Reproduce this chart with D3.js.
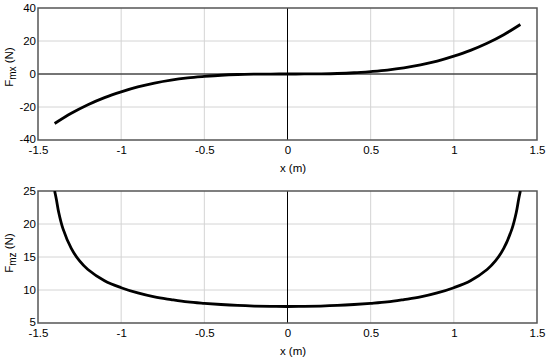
<!DOCTYPE html>
<html>
<head>
<meta charset="utf-8">
<script src="https://cdn.jsdelivr.net/npm/d3@7/dist/d3.min.js"></script>
<style>
  body { margin: 0; background: #fff; }
  svg { display: block; font-family: "Liberation Sans", Arial, sans-serif; }
  .tick text { font-size: 11.5px; fill: #000; }
  .lbl { font-size: 11.5px; fill: #000; }
</style>
</head>
<body>
<svg id="chart" width="550" height="361"></svg>
<script>
// donnees
var xTicks = [-1.5, -1, -0.5, 0, 0.5, 1, 1.5];
var fmxTicks = [-40, -20, 0, 20, 40];
var fmzTicks = [5, 10, 15, 20, 25];

var xMx = [-1.4, -1.3, -1.2, -1.1, -1.0, -0.9, -0.8, -0.7, -0.6, -0.5, -0.4, -0.3, -0.2, -0.1, 0,
           0.1, 0.2, 0.3, 0.4, 0.5, 0.6, 0.7, 0.8, 0.9, 1.0, 1.1, 1.2, 1.3, 1.4];
var fmx = [-30, -23.8, -18.6, -14.3, -10.8, -7.8, -5.5, -3.7, -2.4, -1.5, -0.75, -0.3, -0.1, -0.02, 0,
           0.02, 0.1, 0.3, 0.75, 1.5, 2.4, 3.7, 5.5, 7.8, 10.8, 14.3, 18.6, 23.8, 30];

var xMz = [-1.4, -1.39, -1.375, -1.35, -1.3, -1.25, -1.2, -1.1, -1.0, -0.9, -0.8, -0.7, -0.6, -0.5, -0.4, -0.3, -0.2, -0.1, 0,
           0.1, 0.2, 0.3, 0.4, 0.5, 0.6, 0.7, 0.8, 0.9, 1.0, 1.1, 1.2, 1.25, 1.3, 1.35, 1.375, 1.39, 1.4];
var fmz = [25, 23.8, 21.7, 19.3, 16.3, 14.4, 13.1, 11.4, 10.35, 9.55, 8.95, 8.55, 8.2, 7.98, 7.8, 7.66, 7.57, 7.52, 7.5,
           7.52, 7.57, 7.66, 7.8, 7.98, 8.2, 8.55, 8.95, 9.55, 10.35, 11.4, 13.1, 14.4, 16.3, 19.3, 21.7, 23.8, 25];

var svg = d3.select("#chart");
var left = 38, right = 537;

var x = d3.scaleLinear().domain([-1.5, 1.5]).range([left, right]);

function drawPanel(id, top, bottom, yTicks, xs, ys, labMain, labSub, labY, zeroH) {
	var y = d3.scaleLinear().domain([yTicks[0], yTicks[yTicks.length - 1]]).range([bottom, top]);
	var g = svg.append("g").attr("id", id);

	svg.append("clipPath").attr("id", "clip-" + id)
		.append("rect")
		.attr("x", left).attr("y", top)
		.attr("width", right - left).attr("height", bottom - top);

	// grille
	g.selectAll(".gx").data(xTicks.slice(1, -1)).enter().append("line")
		.attr("x1", d => x(d)).attr("x2", d => x(d))
		.attr("y1", top).attr("y2", bottom)
		.attr("stroke", "#d4d4d4").attr("stroke-width", 1);
	g.selectAll(".gy").data(yTicks.slice(1, -1)).enter().append("line")
		.attr("x1", left).attr("x2", right)
		.attr("y1", d => y(d)).attr("y2", d => y(d))
		.attr("stroke", "#d4d4d4").attr("stroke-width", 1);

	// axes du zero
	g.append("line")
		.attr("x1", x(0)).attr("x2", x(0))
		.attr("y1", top).attr("y2", bottom)
		.attr("stroke", "#000").attr("stroke-width", 1);
	if (zeroH) {
		g.append("line")
			.attr("x1", left).attr("x2", right)
			.attr("y1", y(0)).attr("y2", y(0))
			.attr("stroke", "#000").attr("stroke-width", 1);
	}

	// cadre
	g.append("rect")
		.attr("x", left).attr("y", top)
		.attr("width", right - left).attr("height", bottom - top)
		.attr("fill", "none").attr("stroke", "#555").attr("stroke-width", 1.5);

	// courbe
	var pts = xs.map((d, i) => [d, ys[i]]);
	g.append("path")
		.datum(pts)
		.attr("clip-path", "url(#clip-" + id + ")")
		.attr("fill", "none")
		.attr("stroke", "#000")
		.attr("stroke-width", 2.8)
		.attr("d", d3.line().x(d => x(d[0])).y(d => y(d[1])).curve(d3.curveCatmullRom.alpha(0.5)));

	// graduations
	var ax = g.append("g")
		.attr("transform", "translate(0," + bottom + ")")
		.call(d3.axisBottom(x).tickValues(xTicks).tickSize(0).tickPadding(6).tickFormat(d => String(d)));
	ax.select(".domain").remove();

	var ay = g.append("g")
		.attr("transform", "translate(" + (left - 2) + ",0)")
		.call(d3.axisLeft(y).tickValues(yTicks).tickSize(0).tickPadding(0).tickFormat(d => String(d)));
	ay.select(".domain").remove();
	// la derniere graduation du bas remonte un peu pour ne pas toucher l'axe x
	ay.selectAll(".tick text").filter(d => d === yTicks[0]).attr("dy", "0.2em");

	// titres
	g.append("text")
		.attr("class", "lbl")
		.attr("x", 293).attr("y", bottom + 32)
		.attr("text-anchor", "middle")
		.text("x (m)");

	var t = g.append("text")
		.attr("class", "lbl")
		.attr("text-anchor", "middle")
		.attr("transform", "translate(13," + labY + ") rotate(-90)");
	t.append("tspan").text(labMain);
	t.append("tspan").attr("font-size", "10px").attr("dy", 3).text(labSub);
	t.append("tspan").attr("dy", -3).text(" (N)");
}

drawPanel("haut", 8, 140, fmxTicks, xMx, fmx, "F", "mx", 67, true);
drawPanel("bas", 191, 323, fmzTicks, xMz, fmz, "F", "mz", 253, false);
</script>
</body>
</html>
